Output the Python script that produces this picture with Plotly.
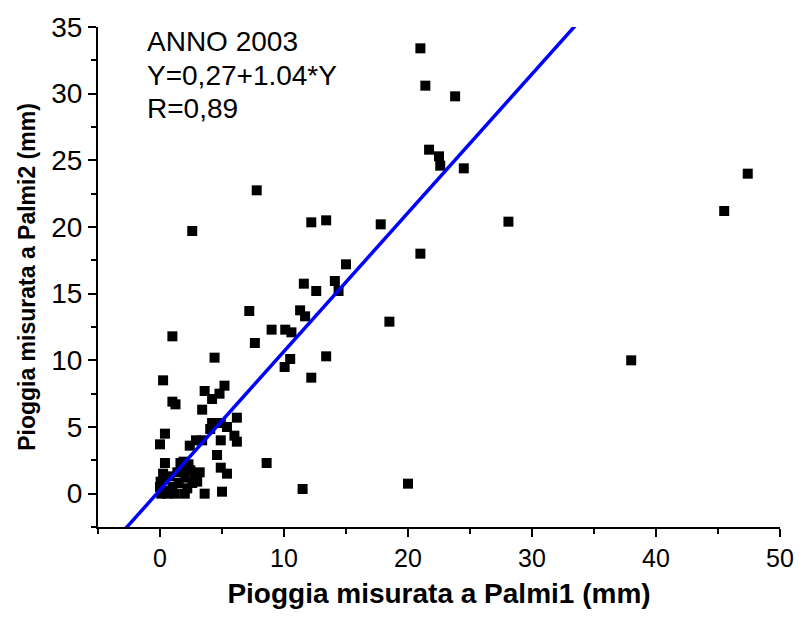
import plotly.graph_objects as go

# Data
palmi1 = [21.0, 21.4, 23.8, 21.7, 22.5, 22.6, 24.5,
          7.8, 2.6, 12.2, 13.4, 17.8, 28.1, 21.0,
          15.0, 14.1, 14.4, 11.6, 12.6, 7.2, 11.3, 11.7, 18.5,
          9.0, 10.1, 10.6, 7.65, 10.5, 13.4, 10.05, 12.2,
          1.0, 4.4, 0.25, 5.2, 3.6, 4.8, 4.2, 1.0, 1.25, 3.4,
          6.2, 4.2, 4.9, 5.4, 6.0, 6.2, 0.4, 0.0, 2.4, 2.9, 3.4, 4.05, 4.9,
          4.6, 4.9, 5.4, 8.6, 5.0, 3.6, 11.5, 20.0,
          38.0, 45.5, 47.4,
          0.4, 0.25, 0.05, 1.65, 2.45, 3.0, 1.9, 2.0, 1.5, 1.0, 0.5, 0.1,
          1.2, 2.2, 2.6, 1.8, 0.8, 2.8, 0.0, 1.4, 2.3, 0.6, 2.0, 3.2]
palmi2 = [33.4, 30.6, 29.8, 25.8, 25.3, 24.6, 24.4,
          22.75, 19.7, 20.35, 20.5, 20.2, 20.4, 18.0,
          17.2, 15.95, 15.2, 15.75, 15.2, 13.7, 13.75, 13.3, 12.9,
          12.3, 12.3, 12.1, 11.3, 10.1, 10.3, 9.5, 8.7,
          11.8, 10.2, 8.5, 8.1, 7.7, 7.5, 7.1, 6.9, 6.7, 6.3,
          5.7, 5.3, 5.3, 5.0, 4.35, 3.9, 4.5, 3.7, 3.6, 4.0, 4.0, 4.85, 4.0,
          2.9, 1.95, 1.5, 2.3, 0.15, 0.0, 0.35, 0.75,
          10.0, 21.2, 24.0,
          2.3, 1.5, 0.9, 2.3, 1.75, 0.9, 2.4, 1.2, 0.8, 0.5, 0.2, 0.0,
          0.0, 0.4, 0.8, 1.8, 1.3, 1.5, 0.5, 1.6, 2.2, 0.0, 0.0, 1.6]

fit_intercept = 0.27
fit_slope = 1.04
fit_x = [-5, 50]
fit_y = [fit_intercept + fit_slope * v for v in fit_x]

x_range = [-5, 50]
y_range = [-2.5, 35]
x_tickvals = [0, 10, 20, 30, 40, 50]
y_tickvals = [0, 5, 10, 15, 20, 25, 30, 35]

text_lines = ["ANNO 2003", "Y=0,27+1.04*Y", "R=0,89"]

FONT = "Liberation Sans, Arial, sans-serif"

fig = go.Figure()
fig.add_trace(go.Scatter(
    x=palmi1, y=palmi2, mode="markers",
    marker=dict(symbol="square", size=10, color="black", line=dict(width=0)),
    showlegend=False, cliponaxis=False,
))
fig.add_trace(go.Scatter(
    x=fit_x, y=fit_y, mode="lines", yaxis="y2",
    line=dict(color="#0000FF", width=3.5),
    showlegend=False,
))

fig.update_layout(
    xaxis=dict(
        range=x_range, tickvals=x_tickvals,
        showline=True, linecolor="black", linewidth=2,
        showgrid=False, zeroline=False,
        ticks="outside", ticklen=8, tickwidth=2, tickcolor="black",
        tickfont=dict(family=FONT, size=25, color="black"),
        minor=dict(dtick=5, tick0=-5, ticks="outside", ticklen=5, tickwidth=2, tickcolor="black"),
        title=dict(text="<b>Pioggia misurata a Palmi1 (mm)</b>",
                   font=dict(family=FONT, size=28, color="black"), standoff=12),
    ),
    yaxis=dict(
        range=y_range, tickvals=y_tickvals,
        showline=True, linecolor="black", linewidth=2,
        showgrid=False, zeroline=False,
        ticks="outside", ticklen=8, tickwidth=2, tickcolor="black",
        showticklabels=False,
        minor=dict(dtick=2.5, tick0=0, ticks="outside", ticklen=5, tickwidth=2, tickcolor="black"),
    ),
    yaxis2=dict(
        range=y_range, tickvals=y_tickvals, overlaying="y",
        anchor="free", position=0, side="left",
        showline=False, showgrid=False, zeroline=False,
        ticks="outside", ticklen=10, tickcolor="rgba(0,0,0,0)",
        tickfont=dict(family=FONT, size=28, color="black"),
        title=dict(text="<b>Pioggia misurata a Palmi2 (mm)</b>",
                   font=dict(family=FONT, size=23, color="black"), standoff=8),
    ),
)

ys = [35, 69, 103]
for t, py in zip(text_lines, ys):
    fig.add_annotation(
        text=t, xref="paper", yref="paper",
        x=(145 - 98) / 688, y=(527 - py) / 507,
        xanchor="left", yanchor="middle", showarrow=False,
        font=dict(family=FONT, size=28, color="black"),
    )

fig.update_layout(
    width=806, height=617,
    margin=dict(l=98, r=20, t=20, b=90),
    plot_bgcolor="white", paper_bgcolor="white",
)

fig.write_html("out.html")
